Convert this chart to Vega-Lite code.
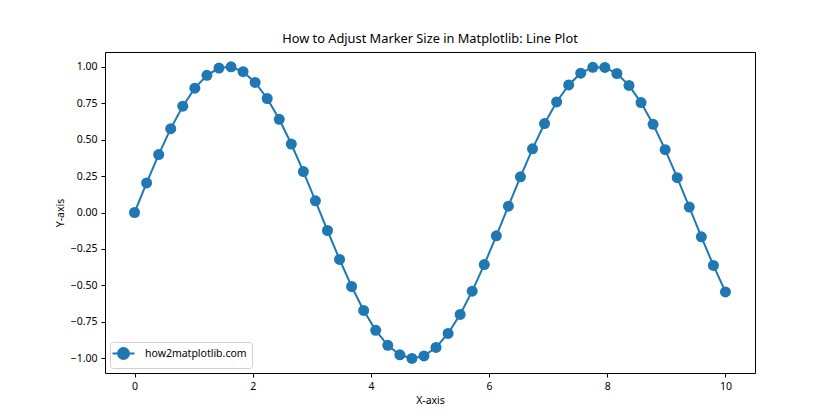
{
  "$schema": "https://vega.github.io/schema/vega-lite/v6.json",
  "width": 650,
  "height": 321,
  "autosize": {"type": "none"},
  "padding": {"left": 105, "top": 52, "right": 85, "bottom": 47},
  "background": "white",
  "title": {"text": "How to Adjust Marker Size in Matplotlib: Line Plot", "fontSize": 12.8, "fontWeight": "normal", "font": "Noto Sans", "color": "black", "offset": 6},
  "config": {
    "font": "Noto Sans",
    "view": {"stroke": "black", "strokeWidth": 1},
    "axis": {"grid": false, "domain": false, "tickColor": "black", "tickSize": 4, "tickWidth": 1, "labelColor": "black", "labelFontSize": 10.5, "labelFont": "Noto Sans", "titleFont": "Noto Sans", "titleFontSize": 10.5, "titleFontWeight": "normal", "titleColor": "black", "labelPadding": 4}
  },
  "data": {"values": [
    {"x": 0.0, "y": 0.0, "s": "how2matplotlib.com"},
    {"x": 0.20408, "y": 0.20267, "s": "how2matplotlib.com"},
    {"x": 0.40816, "y": 0.39692, "s": "how2matplotlib.com"},
    {"x": 0.61224, "y": 0.5747, "s": "how2matplotlib.com"},
    {"x": 0.81633, "y": 0.72863, "s": "how2matplotlib.com"},
    {"x": 1.02041, "y": 0.85211, "s": "how2matplotlib.com"},
    {"x": 1.22449, "y": 0.9404, "s": "how2matplotlib.com"},
    {"x": 1.42857, "y": 0.9899, "s": "how2matplotlib.com"},
    {"x": 1.63265, "y": 0.99808, "s": "how2matplotlib.com"},
    {"x": 1.83673, "y": 0.96478, "s": "how2matplotlib.com"},
    {"x": 2.04082, "y": 0.89155, "s": "how2matplotlib.com"},
    {"x": 2.2449, "y": 0.78126, "s": "how2matplotlib.com"},
    {"x": 2.44898, "y": 0.63855, "s": "how2matplotlib.com"},
    {"x": 2.65306, "y": 0.46932, "s": "how2matplotlib.com"},
    {"x": 2.85714, "y": 0.28063, "s": "how2matplotlib.com"},
    {"x": 3.06122, "y": 0.08028, "s": "how2matplotlib.com"},
    {"x": 3.26531, "y": -0.1234, "s": "how2matplotlib.com"},
    {"x": 3.46939, "y": -0.32195, "s": "how2matplotlib.com"},
    {"x": 3.67347, "y": -0.50716, "s": "how2matplotlib.com"},
    {"x": 3.87755, "y": -0.6713, "s": "how2matplotlib.com"},
    {"x": 4.08163, "y": -0.80759, "s": "how2matplotlib.com"},
    {"x": 4.28571, "y": -0.91035, "s": "how2matplotlib.com"},
    {"x": 4.4898, "y": -0.97533, "s": "how2matplotlib.com"},
    {"x": 4.69388, "y": -0.99983, "s": "how2matplotlib.com"},
    {"x": 4.89796, "y": -0.98283, "s": "how2matplotlib.com"},
    {"x": 5.10204, "y": -0.92504, "s": "how2matplotlib.com"},
    {"x": 5.30612, "y": -0.82885, "s": "how2matplotlib.com"},
    {"x": 5.5102, "y": -0.69834, "s": "how2matplotlib.com"},
    {"x": 5.71429, "y": -0.53891, "s": "how2matplotlib.com"},
    {"x": 5.91837, "y": -0.35677, "s": "how2matplotlib.com"},
    {"x": 6.12245, "y": -0.16004, "s": "how2matplotlib.com"},
    {"x": 6.32653, "y": 0.04333, "s": "how2matplotlib.com"},
    {"x": 6.53061, "y": 0.24491, "s": "how2matplotlib.com"},
    {"x": 6.73469, "y": 0.43637, "s": "how2matplotlib.com"},
    {"x": 6.93878, "y": 0.60961, "s": "how2matplotlib.com"},
    {"x": 7.14286, "y": 0.75762, "s": "how2matplotlib.com"},
    {"x": 7.34694, "y": 0.87438, "s": "how2matplotlib.com"},
    {"x": 7.55102, "y": 0.9548, "s": "how2matplotlib.com"},
    {"x": 7.7551, "y": 0.99511, "s": "how2matplotlib.com"},
    {"x": 7.95918, "y": 0.99449, "s": "how2matplotlib.com"},
    {"x": 8.16327, "y": 0.95258, "s": "how2matplotlib.com"},
    {"x": 8.36735, "y": 0.87112, "s": "how2matplotlib.com"},
    {"x": 8.57143, "y": 0.75339, "s": "how2matplotlib.com"},
    {"x": 8.77551, "y": 0.6046, "s": "how2matplotlib.com"},
    {"x": 8.97959, "y": 0.43066, "s": "how2matplotlib.com"},
    {"x": 9.18367, "y": 0.23864, "s": "how2matplotlib.com"},
    {"x": 9.38776, "y": 0.03702, "s": "how2matplotlib.com"},
    {"x": 9.59184, "y": -0.16648, "s": "how2matplotlib.com"},
    {"x": 9.79592, "y": -0.36299, "s": "how2matplotlib.com"},
    {"x": 10.0, "y": -0.54402, "s": "how2matplotlib.com"}
  ]},
  "encoding": {
    "x": {"field": "x", "type": "quantitative", "scale": {"domain": [-0.5, 10.5], "nice": false, "zero": false}, "axis": {"values": [0, 2, 4, 6, 8, 10], "title": "X-axis", "titlePadding": 4}},
    "y": {"field": "y", "type": "quantitative", "scale": {"domain": [-1.1, 1.1], "nice": false, "zero": false}, "axis": {"values": [-1, -0.75, -0.5, -0.25, 0, 0.25, 0.5, 0.75, 1], "format": ".2f", "title": "Y-axis", "titlePadding": 5}}
  },
  "layer": [
    {"mark": {"type": "line", "strokeWidth": 2, "color": "#1f77b4"}},
    {"mark": {"type": "point", "filled": true, "opacity": 1, "size": 121, "shape": "circle"},
     "encoding": {"color": {"field": "s", "type": "nominal", "scale": {"range": ["#1f77b4"]},
       "legend": {"title": null, "orient": "bottom-left", "offset": 5, "symbolType": "M-2,0L2,0M1,0A1,1,0,1,1,-1,0A1,1,0,1,1,1,0Z", "symbolSize": 121, "symbolStrokeWidth": 2, "symbolStrokeColor": "#1f77b4", "symbolFillColor": "#1f77b4", "symbolOpacity": 1, "symbolOffset": 2, "labelFontSize": 10.5, "labelColor": "black", "labelOffset": 15, "padding": 5, "strokeColor": "#d0d0d0", "fillColor": "white", "cornerRadius": 3}}}}
  ]
}
